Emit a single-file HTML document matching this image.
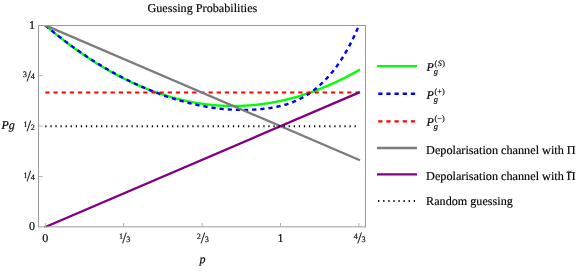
<!DOCTYPE html>
<html><head><meta charset="utf-8"><title>Guessing Probabilities</title>
<style>
html,body{margin:0;padding:0;background:#fff;}
body{width:581px;height:271px;overflow:hidden;font-family:"Liberation Serif",serif;}
svg{display:block;will-change:transform;}
text{font-family:"Liberation Serif",serif;fill:#000;stroke:#000;stroke-width:0.16px;text-rendering:geometricPrecision;}
.i{font-style:italic;}
</style></head><body>
<svg width="581" height="271" viewBox="0 0 581 271">
<rect x="0" y="0" width="581" height="271" fill="#fff"/>
<defs><clipPath id="cp"><rect x="38.5" y="25" width="327" height="202.25"/></clipPath></defs>

<g clip-path="url(#cp)" fill="none" stroke-linecap="butt" stroke-linejoin="round">
<path d="M45.30 25.30 L46.09 25.97 L46.87 26.64 L47.66 27.31 L48.44 27.97 L49.23 28.63 L50.02 29.29 L50.80 29.95 L51.59 30.60 L52.37 31.25 L53.16 31.90 L53.95 32.54 L54.73 33.19 L55.52 33.82 L56.30 34.46 L57.09 35.09 L57.88 35.72 L58.66 36.35 L59.45 36.98 L60.23 37.60 L61.02 38.22 L61.81 38.83 L62.59 39.45 L63.38 40.06 L64.16 40.67 L64.95 41.27 L65.74 41.87 L66.52 42.47 L67.31 43.07 L68.09 43.66 L68.88 44.25 L69.66 44.84 L70.45 45.43 L71.24 46.01 L72.02 46.59 L72.81 47.17 L73.59 47.74 L74.38 48.31 L75.17 48.88 L75.95 49.45 L76.74 50.01 L77.52 50.57 L78.31 51.13 L79.10 51.68 L79.88 52.23 L80.67 52.78 L81.45 53.33 L82.24 53.87 L83.03 54.41 L83.81 54.95 L84.60 55.48 L85.38 56.01 L86.17 56.54 L86.96 57.07 L87.74 57.59 L88.53 58.11 L89.31 58.63 L90.10 59.15 L90.89 59.66 L91.67 60.17 L92.46 60.67 L93.24 61.18 L94.03 61.68 L94.82 62.18 L95.60 62.67 L96.39 63.16 L97.17 63.65 L97.96 64.14 L98.75 64.62 L99.53 65.11 L100.32 65.58 L101.10 66.06 L101.89 66.53 L102.68 67.00 L103.46 67.47 L104.25 67.93 L105.03 68.39 L105.82 68.85 L106.61 69.31 L107.39 69.76 L108.18 70.21 L108.96 70.66 L109.75 71.10 L110.54 71.55 L111.32 71.98 L112.11 72.42 L112.89 72.85 L113.68 73.28 L114.46 73.71 L115.25 74.14 L116.04 74.56 L116.82 74.98 L117.61 75.39 L118.39 75.81 L119.18 76.22 L119.97 76.63 L120.75 77.03 L121.54 77.43 L122.32 77.83 L123.11 78.23 L123.90 78.62 L124.68 79.02 L125.47 79.40 L126.25 79.79 L127.04 80.17 L127.83 80.55 L128.61 80.93 L129.40 81.30 L130.18 81.67 L130.97 82.04 L131.76 82.41 L132.54 82.77 L133.33 83.13 L134.11 83.49 L134.90 83.84 L135.69 84.19 L136.47 84.54 L137.26 84.89 L138.04 85.23 L138.83 85.57 L139.62 85.91 L140.40 86.25 L141.19 86.58 L141.97 86.91 L142.76 87.23 L143.55 87.56 L144.33 87.88 L145.12 88.20 L145.90 88.51 L146.69 88.82 L147.48 89.13 L148.26 89.44 L149.05 89.74 L149.83 90.04 L150.62 90.34 L151.41 90.64 L152.19 90.93 L152.98 91.22 L153.76 91.51 L154.55 91.79 L155.34 92.07 L156.12 92.35 L156.91 92.63 L157.69 92.90 L158.48 93.17 L159.26 93.44 L160.05 93.70 L160.84 93.96 L161.62 94.22 L162.41 94.48 L163.19 94.73 L163.98 94.98 L164.77 95.23 L165.55 95.47 L166.34 95.71 L167.12 95.95 L167.91 96.19 L168.70 96.42 L169.48 96.65 L170.27 96.88 L171.05 97.11 L171.84 97.33 L172.63 97.55 L173.41 97.76 L174.20 97.98 L174.98 98.19 L175.77 98.40 L176.56 98.60 L177.34 98.80 L178.13 99.00 L178.91 99.20 L179.70 99.39 L180.49 99.59 L181.27 99.77 L182.06 99.96 L182.84 100.14 L183.63 100.32 L184.42 100.50 L185.20 100.67 L185.99 100.84 L186.77 101.01 L187.56 101.18 L188.35 101.34 L189.13 101.50 L189.92 101.66 L190.70 101.81 L191.49 101.97 L192.28 102.11 L193.06 102.26 L193.85 102.40 L194.63 102.54 L195.42 102.68 L196.21 102.82 L196.99 102.95 L197.78 103.08 L198.56 103.20 L199.35 103.33 L200.14 103.45 L200.92 103.57 L201.71 103.68 L202.49 103.79 L203.28 103.90 L204.06 104.01 L204.85 104.11 L205.64 104.22 L206.42 104.31 L207.21 104.41 L207.99 104.50 L208.78 104.59 L209.57 104.68 L210.35 104.76 L211.14 104.84 L211.92 104.92 L212.71 105.00 L213.50 105.07 L214.28 105.14 L215.07 105.21 L215.85 105.27 L216.64 105.34 L217.43 105.39 L218.21 105.45 L219.00 105.50 L219.78 105.55 L220.57 105.60 L221.36 105.65 L222.14 105.69 L222.93 105.73 L223.71 105.76 L224.50 105.80 L225.29 105.83 L226.07 105.86 L226.86 105.88 L227.64 105.90 L228.43 105.92 L229.22 105.94 L230.00 105.95 L230.79 105.96 L231.57 105.97 L232.36 105.98 L233.15 105.98 L233.93 105.98 L234.72 105.98 L235.50 105.97 L236.29 105.96 L237.08 105.95 L237.86 105.94 L238.65 105.92 L239.43 105.90 L240.22 105.88 L241.01 105.85 L241.79 105.82 L242.58 105.79 L243.36 105.76 L244.15 105.72 L244.94 105.68 L245.72 105.64 L246.51 105.59 L247.29 105.54 L248.08 105.49 L248.86 105.44 L249.65 105.38 L250.44 105.32 L251.22 105.26 L252.01 105.20 L252.79 105.13 L253.58 105.06 L254.37 104.98 L255.15 104.91 L255.94 104.83 L256.72 104.75 L257.51 104.66 L258.30 104.57 L259.08 104.48 L259.87 104.39 L260.65 104.29 L261.44 104.20 L262.23 104.09 L263.01 103.99 L263.80 103.88 L264.58 103.77 L265.37 103.66 L266.16 103.54 L266.94 103.43 L267.73 103.30 L268.51 103.18 L269.30 103.05 L270.09 102.92 L270.87 102.79 L271.66 102.66 L272.44 102.52 L273.23 102.38 L274.02 102.23 L274.80 102.09 L275.59 101.94 L276.37 101.78 L277.16 101.63 L277.95 101.47 L278.73 101.31 L279.52 101.15 L280.30 100.98 L281.09 100.81 L281.88 100.64 L282.66 100.46 L283.45 100.29 L284.23 100.11 L285.02 99.92 L285.81 99.74 L286.59 99.55 L287.38 99.36 L288.16 99.16 L288.95 98.96 L289.74 98.76 L290.52 98.56 L291.31 98.35 L292.09 98.15 L292.88 97.93 L293.66 97.72 L294.45 97.50 L295.24 97.28 L296.02 97.06 L296.81 96.83 L297.59 96.61 L298.38 96.38 L299.17 96.14 L299.95 95.90 L300.74 95.67 L301.52 95.42 L302.31 95.18 L303.10 94.93 L303.88 94.68 L304.67 94.42 L305.45 94.17 L306.24 93.91 L307.03 93.65 L307.81 93.38 L308.60 93.11 L309.38 92.84 L310.17 92.57 L310.96 92.29 L311.74 92.02 L312.53 91.73 L313.31 91.45 L314.10 91.16 L314.89 90.87 L315.67 90.58 L316.46 90.28 L317.24 89.98 L318.03 89.68 L318.82 89.38 L319.60 89.07 L320.39 88.76 L321.17 88.45 L321.96 88.13 L322.75 87.81 L323.53 87.49 L324.32 87.17 L325.10 86.84 L325.89 86.51 L326.68 86.18 L327.46 85.84 L328.25 85.51 L329.03 85.16 L329.82 84.82 L330.61 84.47 L331.39 84.12 L332.18 83.77 L332.96 83.42 L333.75 83.06 L334.54 82.70 L335.32 82.34 L336.11 81.97 L336.89 81.60 L337.68 81.23 L338.46 80.85 L339.25 80.48 L340.04 80.10 L340.82 79.71 L341.61 79.33 L342.39 78.94 L343.18 78.55 L343.97 78.15 L344.75 77.75 L345.54 77.35 L346.32 76.95 L347.11 76.55 L347.90 76.14 L348.68 75.73 L349.47 75.31 L350.25 74.89 L351.04 74.47 L351.83 74.05 L352.61 73.63 L353.40 73.20 L354.18 72.77 L354.97 72.33 L355.76 71.90 L356.54 71.46 L357.33 71.02 L358.11 70.57 L358.90 70.12" stroke="#00ff00" stroke-width="2.35" stroke-linecap="square"/>
<path d="M45.30 25.34 L46.09 26.00 L46.87 26.66 L47.66 27.32 L48.44 27.97 L49.23 28.62 L50.02 29.26 L50.80 29.91 L51.59 30.55 L52.37 31.19 L53.16 31.82 L53.95 32.46 L54.73 33.09 L55.52 33.72 L56.30 34.34 L57.09 34.96 L57.88 35.58 L58.66 36.20 L59.45 36.81 L60.23 37.43 L61.02 38.03 L61.81 38.64 L62.59 39.24 L63.38 39.84 L64.16 40.44 L64.95 41.04 L65.74 41.63 L66.52 42.22 L67.31 42.81 L68.09 43.39 L68.88 43.98 L69.66 44.56 L70.45 45.13 L71.24 45.71 L72.02 46.28 L72.81 46.85 L73.59 47.41 L74.38 47.98 L75.17 48.54 L75.95 49.10 L76.74 49.65 L77.52 50.21 L78.31 50.76 L79.10 51.31 L79.88 51.85 L80.67 52.39 L81.45 52.93 L82.24 53.47 L83.03 54.01 L83.81 54.54 L84.60 55.07 L85.38 55.59 L86.17 56.12 L86.96 56.64 L87.74 57.16 L88.53 57.68 L89.31 58.19 L90.10 58.70 L90.89 59.21 L91.67 59.72 L92.46 60.22 L93.24 60.72 L94.03 61.22 L94.82 61.71 L95.60 62.21 L96.39 62.70 L97.17 63.19 L97.96 63.67 L98.75 64.16 L99.53 64.64 L100.32 65.11 L101.10 65.59 L101.89 66.06 L102.68 66.53 L103.46 67.00 L104.25 67.46 L105.03 67.93 L105.82 68.39 L106.61 68.84 L107.39 69.30 L108.18 69.75 L108.96 70.20 L109.75 70.65 L110.54 71.09 L111.32 71.53 L112.11 71.97 L112.89 72.41 L113.68 72.84 L114.46 73.28 L115.25 73.71 L116.04 74.13 L116.82 74.56 L117.61 74.98 L118.39 75.40 L119.18 75.81 L119.97 76.23 L120.75 76.64 L121.54 77.05 L122.32 77.46 L123.11 77.86 L123.90 78.26 L124.68 78.66 L125.47 79.06 L126.25 79.45 L127.04 79.84 L127.83 80.23 L128.61 80.62 L129.40 81.00 L130.18 81.39 L130.97 81.77 L131.76 82.14 L132.54 82.52 L133.33 82.89 L134.11 83.26 L134.90 83.62 L135.69 83.99 L136.47 84.35 L137.26 84.71 L138.04 85.07 L138.83 85.42 L139.62 85.77 L140.40 86.12 L141.19 86.47 L141.97 86.81 L142.76 87.16 L143.55 87.50 L144.33 87.83 L145.12 88.17 L145.90 88.50 L146.69 88.83 L147.48 89.16 L148.26 89.48 L149.05 89.81 L149.83 90.13 L150.62 90.45 L151.41 90.76 L152.19 91.07 L152.98 91.38 L153.76 91.69 L154.55 92.00 L155.34 92.30 L156.12 92.60 L156.91 92.90 L157.69 93.20 L158.48 93.49 L159.26 93.78 L160.05 94.07 L160.84 94.36 L161.62 94.64 L162.41 94.92 L163.19 95.20 L163.98 95.48 L164.77 95.75 L165.55 96.03 L166.34 96.30 L167.12 96.56 L167.91 96.83 L168.70 97.09 L169.48 97.35 L170.27 97.61 L171.05 97.86 L171.84 98.12 L172.63 98.37 L173.41 98.61 L174.20 98.86 L174.98 99.10 L175.77 99.34 L176.56 99.58 L177.34 99.82 L178.13 100.05 L178.91 100.28 L179.70 100.51 L180.49 100.74 L181.27 100.96 L182.06 101.18 L182.84 101.40 L183.63 101.61 L184.42 101.83 L185.20 102.04 L185.99 102.24 L186.77 102.45 L187.56 102.65 L188.35 102.85 L189.13 103.05 L189.92 103.24 L190.70 103.44 L191.49 103.62 L192.28 103.81 L193.06 104.00 L193.85 104.18 L194.63 104.36 L195.42 104.53 L196.21 104.71 L196.99 104.88 L197.78 105.05 L198.56 105.21 L199.35 105.37 L200.14 105.53 L200.92 105.69 L201.71 105.85 L202.49 106.00 L203.28 106.15 L204.06 106.29 L204.85 106.44 L205.64 106.58 L206.42 106.72 L207.21 106.85 L207.99 106.98 L208.78 107.11 L209.57 107.24 L210.35 107.37 L211.14 107.49 L211.92 107.60 L212.71 107.72 L213.50 107.83 L214.28 107.94 L215.07 108.05 L215.85 108.15 L216.64 108.26 L217.43 108.35 L218.21 108.45 L219.00 108.54 L219.78 108.63 L220.57 108.72 L221.36 108.80 L222.14 108.88 L222.93 108.96 L223.71 109.04 L224.50 109.11 L225.29 109.18 L226.07 109.24 L226.86 109.31 L227.64 109.37 L228.43 109.42 L229.22 109.48 L230.00 109.53 L230.79 109.58 L231.57 109.62 L232.36 109.67 L233.15 109.70 L233.93 109.74 L234.72 109.77 L235.50 109.80 L236.29 109.83 L237.08 109.85 L237.86 109.87 L238.65 109.89 L239.43 109.91 L240.22 109.92 L241.01 109.93 L241.79 109.93 L242.58 109.93 L243.36 109.93 L244.15 109.93 L244.94 109.92 L245.72 109.91 L246.51 109.89 L247.29 109.88 L248.08 109.86 L248.86 109.83 L249.65 109.81 L250.44 109.78 L251.22 109.74 L252.01 109.71 L252.79 109.67 L253.58 109.63 L254.37 109.58 L255.15 109.53 L255.94 109.48 L256.72 109.42 L257.51 109.36 L258.30 109.30 L259.08 109.23 L259.87 109.16 L260.65 109.09 L261.44 109.02 L262.23 108.94 L263.01 108.85 L263.80 108.77 L264.58 108.68 L265.37 108.59 L266.16 108.49 L266.94 108.39 L267.73 108.29 L268.51 108.18 L269.30 108.07 L270.09 107.96 L270.87 107.84 L271.66 107.71 L272.44 107.58 L273.23 107.45 L274.02 107.31 L274.80 107.17 L275.59 107.02 L276.37 106.86 L277.16 106.70 L277.95 106.54 L278.73 106.37 L279.52 106.19 L280.30 106.01 L281.09 105.82 L281.88 105.62 L282.66 105.42 L283.45 105.20 L284.23 104.99 L285.02 104.76 L285.81 104.53 L286.59 104.29 L287.38 104.04 L288.16 103.79 L288.95 103.53 L289.74 103.26 L290.52 102.98 L291.31 102.69 L292.09 102.39 L292.88 102.09 L293.66 101.77 L294.45 101.45 L295.24 101.12 L296.02 100.78 L296.81 100.42 L297.59 100.06 L298.38 99.69 L299.17 99.31 L299.95 98.92 L300.74 98.52 L301.52 98.11 L302.31 97.69 L303.10 97.25 L303.88 96.81 L304.67 96.35 L305.45 95.89 L306.24 95.41 L307.03 94.92 L307.81 94.42 L308.60 93.90 L309.38 93.38 L310.17 92.84 L310.96 92.29 L311.74 91.73 L312.53 91.15 L313.31 90.56 L314.10 89.96 L314.89 89.35 L315.67 88.72 L316.46 88.08 L317.24 87.42 L318.03 86.75 L318.82 86.07 L319.60 85.37 L320.39 84.66 L321.17 83.94 L321.96 83.20 L322.75 82.44 L323.53 81.67 L324.32 80.89 L325.10 80.09 L325.89 79.27 L326.68 78.44 L327.46 77.59 L328.25 76.73 L329.03 75.85 L329.82 74.95 L330.61 74.04 L331.39 73.11 L332.18 72.16 L332.96 71.19 L333.75 70.20 L334.54 69.19 L335.32 68.16 L336.11 67.11 L336.89 66.04 L337.68 64.95 L338.46 63.84 L339.25 62.70 L340.04 61.54 L340.82 60.35 L341.61 59.14 L342.39 57.91 L343.18 56.65 L343.97 55.37 L344.75 54.06 L345.54 52.72 L346.32 51.36 L347.11 49.96 L347.90 48.54 L348.68 47.10 L349.47 45.62 L350.25 44.11 L351.04 42.58 L351.83 41.01 L352.61 39.41 L353.40 37.78 L354.18 36.12 L354.97 34.43 L355.76 32.70 L356.54 30.94 L357.33 29.15 L358.11 27.32 L358.90 25.46" stroke="#0000ff" stroke-width="2.4" stroke-dasharray="4.25 3.91"/>
<path d="M45.30 92.53 L358.90 92.53" stroke="#ff0000" stroke-width="2.15" stroke-dasharray="4.25 3.91"/>
<path d="M45.30 25.30 L358.90 159.77" stroke="#7c7c7c" stroke-width="2.3" stroke-linecap="square"/>
<path d="M45.30 227.00 L358.90 92.53" stroke="#800080" stroke-width="2.3" stroke-linecap="square"/>
<path d="M45.30 126.15 L358.90 126.15" stroke="#000" stroke-width="2.0" stroke-dasharray="1.25 3.82"/>
</g>
<g fill="none" stroke="#9a9a9a" stroke-width="1" stroke-linecap="square">
<path d="M38.5 25.5 H365.5 M38.5 226.85 H365.5 M38.5 25.5 V226.85 M365.5 25.5 V226.85"/>
</g><g stroke="#adadad" stroke-width="1" fill="none">
<path d="M38.5 176.57 h4.2"/>
<path d="M38.5 126.15 h4.2"/>
<path d="M38.5 75.73 h4.2"/>
<path d="M45.30 227.0 v-4"/>
<path d="M123.70 227.0 v-4"/>
<path d="M202.10 227.0 v-4"/>
<path d="M280.50 227.0 v-4"/>
<path d="M358.90 227.0 v-4"/>
</g>
<g font-size="12">
<text x="202.4" y="11.8" text-anchor="middle" textLength="109.8" lengthAdjust="spacingAndGlyphs">Guessing Probabilities</text>
<text class="i" x="1.5" y="129.4">Pg</text>
<text class="i" x="202.6" y="263.2" text-anchor="middle">p</text>
<text x="34.9" y="28.80" text-anchor="end">1</text>
<text x="34.9" y="230.30" text-anchor="end">0</text>
<text x="45.2" y="241.6" text-anchor="middle">0</text>
<text x="280.6" y="241.6" text-anchor="middle">1</text>
</g>
<text x="26.95" y="76.83" font-size="8.2" text-anchor="end">3</text><text x="26.74" y="80.63" font-size="15.4">/</text><text x="30.75" y="79.33" font-size="8.2">4</text>
<text x="27.55" y="127.25" font-size="8.2" text-anchor="end">1</text><text x="26.74" y="131.05" font-size="15.4">/</text><text x="30.75" y="129.75" font-size="8.2">2</text>
<text x="27.55" y="177.68" font-size="8.2" text-anchor="end">1</text><text x="26.74" y="181.47" font-size="15.4">/</text><text x="30.75" y="180.18" font-size="8.2">4</text>
<text x="123.15" y="239.15" font-size="8.2" text-anchor="end">1</text><text x="122.34" y="242.95" font-size="15.4">/</text><text x="126.35" y="241.65" font-size="8.2">3</text>
<text x="200.95" y="239.15" font-size="8.2" text-anchor="end">2</text><text x="200.74" y="242.95" font-size="15.4">/</text><text x="204.75" y="241.65" font-size="8.2">3</text>
<text x="357.75" y="239.15" font-size="8.2" text-anchor="end">4</text><text x="357.54" y="242.95" font-size="15.4">/</text><text x="361.55" y="241.65" font-size="8.2">3</text>
<g fill="none">
<path d="M377.0 66.1 H417.0" stroke="#00ff00" stroke-width="2.35"/>
<path d="M377.0 93.8 H417.0" stroke="#0000ff" stroke-width="2.4" stroke-dasharray="4.25 3.91" stroke-dashoffset="-1.2"/>
<path d="M377.0 121.4 H417.0" stroke="#ff0000" stroke-width="2.15" stroke-dasharray="4.25 3.91" stroke-dashoffset="-1.2"/>
<path d="M377.0 148.0 H417.0" stroke="#7c7c7c" stroke-width="2.3"/>
<path d="M377.0 174.4 H417.0" stroke="#800080" stroke-width="2.3"/>
<path d="M377.0 201.0 H417.0" stroke="#000" stroke-width="2.0" stroke-dasharray="1.25 3.84" stroke-dashoffset="-1.1"/>
</g>
<text class="i" x="426.5" y="71.10" font-size="12">P</text>
<text x="434.6" y="66.10" font-size="8.2"><tspan letter-spacing="0.45">(<tspan class="i">S</tspan>)</tspan></text>
<text class="i" x="433.7" y="73.90" font-size="8.5">g</text>
<text class="i" x="426.5" y="98.80" font-size="12">P</text>
<text x="434.6" y="93.80" font-size="8.2">(+)</text>
<text class="i" x="433.7" y="101.60" font-size="8.5">g</text>
<text class="i" x="426.5" y="126.40" font-size="12">P</text>
<text x="434.6" y="121.40" font-size="8.2">(−)</text>
<text class="i" x="433.7" y="129.20" font-size="8.5">g</text>
<g font-size="12">
<text x="426.1" y="153.8" textLength="149.6" lengthAdjust="spacingAndGlyphs">Depolarisation channel with Π</text>
<text x="426.1" y="179.6" textLength="149.6" lengthAdjust="spacingAndGlyphs">Depolarisation channel with Π</text>
<path d="M566.9 172.6 C567.6 170.7 568.6 171.0 569.2 171.6 S570.7 172.4 571.6 170.7" fill="none" stroke="#000" stroke-width="0.9"/>
<text x="426.1" y="205.3" textLength="86.7" lengthAdjust="spacingAndGlyphs">Random guessing</text>
</g>
</svg></body></html>
